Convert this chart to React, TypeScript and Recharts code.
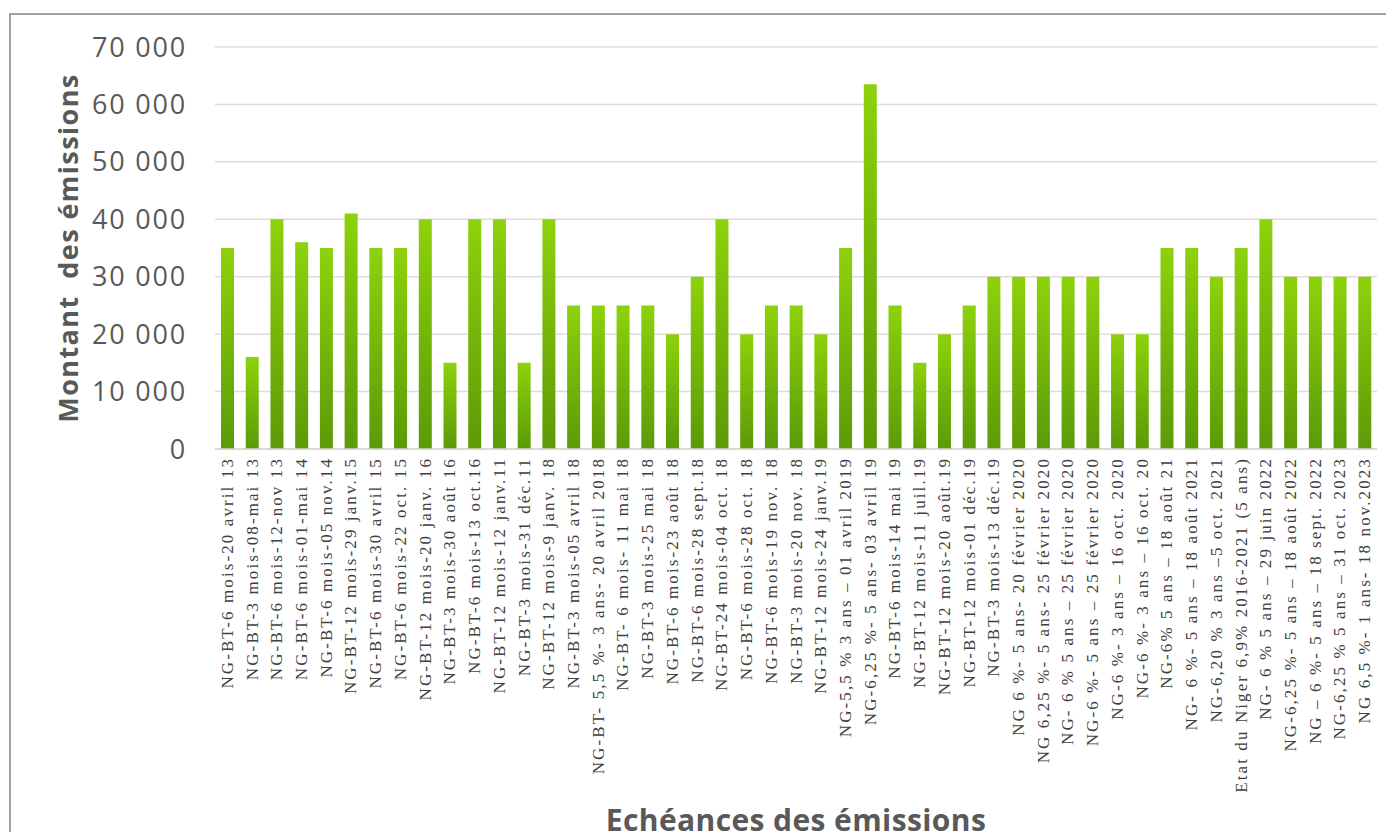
import { BarChart, Bar, XAxis, YAxis, CartesianGrid, Label } from "recharts";

// Échéances (libellés des émissions)
const echeances = [
  "NG-BT-6 mois-20 avril 13",
  "NG-BT-3 mois-08-mai 13",
  "NG-BT-6 mois-12-nov 13",
  "NG-BT-6 mois-01-mai 14",
  "NG-BT-6 mois-05 nov.14",
  "NG-BT-12 mois-29 janv.15",
  "NG-BT-6 mois-30 avril 15",
  "NG-BT-6 mois-22 oct. 15",
  "NG-BT-12 mois-20 janv. 16",
  "NG-BT-3 mois-30 août 16",
  "NG-BT-6 mois-13 oct.16",
  "NG-BT-12 mois-12 janv.11",
  "NG-BT-3 mois-31 déc.11",
  "NG-BT-12 mois-9 janv. 18",
  "NG-BT-3 mois-05 avril 18",
  "NG-BT- 5,5 %- 3 ans- 20 avril 2018",
  "NG-BT- 6 mois- 11 mai 18",
  "NG-BT-3 mois-25 mai 18",
  "NG-BT-6 mois-23 août 18",
  "NG-BT-6 mois-28 sept.18",
  "NG-BT-24 mois-04 oct. 18",
  "NG-BT-6 mois-28 oct. 18",
  "NG-BT-6 mois-19 nov. 18",
  "NG-BT-3 mois-20 nov. 18",
  "NG-BT-12 mois-24 janv.19",
  "NG-5,5 % 3 ans – 01 avril 2019",
  "NG-6,25 %- 5 ans- 03 avril 19",
  "NG-BT-6 mois-14 mai 19",
  "NG-BT-12 mois-11 juil.19",
  "NG-BT-12 mois-20 août.19",
  "NG-BT-12 mois-01 déc.19",
  "NG-BT-3 mois-13 déc.19",
  "NG 6 %- 5 ans- 20 février 2020",
  "NG 6,25 %- 5 ans- 25 février 2020",
  "NG- 6 % 5 ans – 25 février 2020",
  "NG-6 %- 5 ans – 25 février 2020",
  "NG-6 %- 3 ans – 16 oct. 2020",
  "NG-6 %- 3 ans – 16 oct. 20",
  "NG-6% 5 ans – 18 août 21",
  "NG- 6 %- 5 ans – 18 août 2021",
  "NG-6,20 % 3 ans –5 oct. 2021",
  "Etat du Niger 6,9% 2016-2021 (5 ans)",
  "NG- 6 % 5 ans – 29 juin 2022",
  "NG-6,25 %- 5 ans – 18 août 2022",
  "NG – 6 %- 5 ans – 18 sept. 2022",
  "NG-6,25 % 5 ans – 31 oct. 2023",
  "NG 6,5 %- 1 ans- 18 nov.2023",
];

// Montant des émissions
const montants = [
  35000, 16000, 40000, 36000, 35000, 41000, 35000, 35000, 40000, 15000,
  40000, 40000, 15000, 40000, 25000, 25000, 25000, 25000, 20000, 30000,
  40000, 20000, 25000, 25000, 20000, 35000, 63500, 25000, 15000, 20000,
  25000, 30000, 30000, 30000, 30000, 30000, 20000, 20000, 35000, 35000,
  30000, 35000, 40000, 30000, 30000, 30000, 30000,
];

const yTicks = [0, 10000, 20000, 30000, 40000, 50000, 60000, 70000];

const data = echeances.map((echeance, i) => ({ echeance, montant: montants[i] }));

const GREY = "#595959";

const formatMontant = (v: number) =>
  v === 0 ? "0" : `${Math.floor(v / 1000)} ${String(v % 1000).padStart(3, "0")}`;

function EcheanceTick(props: any) {
  const { x, y, payload } = props;
  const bx = x + 5.5;
  return (
    <text
      x={bx}
      y={y}
      transform={`rotate(-90, ${bx}, ${y})`}
      textAnchor="end"
      fill="#404040"
      fontFamily="'Liberation Serif', serif"
      fontSize={17}
      letterSpacing={2.1}
      style={{ whiteSpace: "pre" }}
    >
      {payload.value}
    </text>
  );
}

export default function App() {
  return (
    <div
      style={{
        position: "relative",
        width: 1394,
        height: 840,
        margin: -8,
        overflow: "hidden",
        background: "#fff",
      }}
    >
      {/* cadre du graphique */}
      <div
        style={{
          position: "absolute",
          left: 9,
          top: 13,
          width: 1420,
          height: 900,
          border: "2px solid #a0a0a0",
        }}
      />
      <div style={{ position: "absolute", left: 0, top: 0 }}>
        <BarChart
          width={1394}
          height={840}
          data={data}
          margin={{ top: 47, right: 17, bottom: 0, left: 0 }}
          barCategoryGap={0}
        >
          <defs>
            <linearGradient id="barFill" x1="0" y1="0" x2="0" y2="1">
              <stop offset="0%" stopColor="#8dd20b" />
              <stop offset="100%" stopColor="#5c9a07" />
            </linearGradient>
          </defs>
          <CartesianGrid vertical={false} stroke="#dcdcdc" strokeWidth={1.5} />
          <XAxis
            dataKey="echeance"
            interval={0}
            height={391}
            tickLine={false}
            tickSize={0}
            tickMargin={8}
            axisLine={{ stroke: "#d4d4d4", strokeWidth: 1.5 }}
            tick={<EcheanceTick />}
          >
            <Label
              value="Echéances  des émissions"
              position="insideBottom"
              offset={9}
              fill={GREY}
              fontFamily="'Open Sans', sans-serif"
              fontWeight={700}
              fontSize={30}
              letterSpacing={0.4}
              style={{ whiteSpace: "pre" }}
            />
          </XAxis>
          <YAxis
            width={215}
            domain={[0, 70000]}
            ticks={yTicks}
            interval={0}
            axisLine={false}
            tickLine={false}
            tickSize={0}
            tickMargin={28}
            tickFormatter={formatMontant}
            tick={{ fill: GREY, fontFamily: "'Open Sans', sans-serif", fontSize: 27, letterSpacing: 1.8 }}
          >
            <Label
              content={({ viewBox }: any) => {
                const cx = viewBox.x + 67;
                const cy = viewBox.y + viewBox.height / 2;
                return (
                  <text
                    x={cx}
                    y={cy}
                    transform={`rotate(-90, ${cx}, ${cy})`}
                    textAnchor="middle"
                    dominantBaseline="central"
                    fill={GREY}
                    fontFamily="'Open Sans', sans-serif"
                    fontWeight={700}
                    fontSize={27}
                    letterSpacing={1.4}
                    style={{ whiteSpace: "pre" }}
                  >
                    Montant  des émissions
                  </text>
                );
              }}
            />
          </YAxis>
          <Bar dataKey="montant" fill="url(#barFill)" barSize={13} isAnimationActive={false} />
        </BarChart>
      </div>
    </div>
  );
}
